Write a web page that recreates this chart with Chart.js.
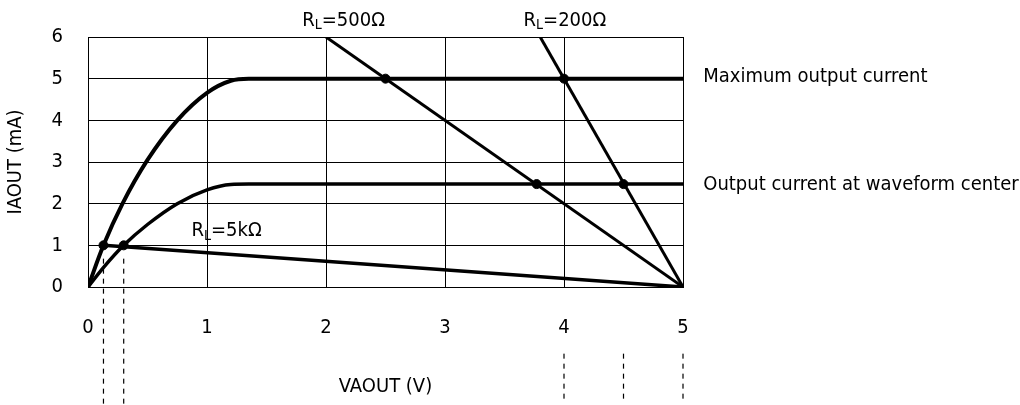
<!DOCTYPE html>
<html>
<head>
<meta charset="utf-8">
<script src="https://cdn.jsdelivr.net/npm/chart.js@4"></script>
<style>
  html, body { margin: 0; padding: 0; background: #fff; }
  #wrap { width: 1020px; height: 405px; }
</style>
</head>
<body>
<div id="wrap"><canvas id="ioChart"></canvas></div>
<script>
// values
const xTicks = [0, 1, 2, 3, 4, 5];
const yTicks = [0, 1, 2, 3, 4, 5, 6];

const maxCurveV = [0, 0.13, 0.29, 0.5, 0.75, 1.0, 1.2, 1.35, 5];
const maxCurveI = [0, 1, 2, 3.05, 4, 4.66, 4.95, 5, 5];

const centerCurveV = [0, 0.14, 0.3, 0.5, 0.75, 1.0, 1.2, 1.35, 5];
const centerCurveI = [0, 0.5, 1, 1.5, 2.0, 2.33, 2.46, 2.47, 2.47];

const rl5kV = [0.13, 5];
const rl5kI = [1, 0];
const rl500V = [2, 5];
const rl500I = [6, 0];
const rl200V = [3.8, 5];
const rl200I = [6, 0];

const dotV = [0.13, 0.3, 2.5, 4, 3.77, 4.5];
const dotI = [1, 1, 5, 5, 2.47, 2.47];

const markV = [0.13, 0.3, 4, 4.5, 5];
const markTop = [0.68, 0.68, -1.6, -1.6, -1.6];
const markBottom = -2.8;

const FONT = "'DejaVu Sans Condensed', 'DejaVu Sans', sans-serif";

function pts(xs, ys) {
  return xs.map(function (x, i) { return { x: x, y: ys[i] }; });
}

const lineBase = {
  showLine: true,
  borderColor: '#000',
  backgroundColor: '#000',
  pointRadius: 0,
  fill: false
};

const datasets = [
  Object.assign({}, lineBase, { data: pts(dotV, dotI), showLine: false, pointRadius: 4.5 }),
  Object.assign({}, lineBase, { data: pts(maxCurveV, maxCurveI), borderWidth: 4, cubicInterpolationMode: 'monotone' }),
  Object.assign({}, lineBase, { data: pts(centerCurveV, centerCurveI), borderWidth: 3.5, cubicInterpolationMode: 'monotone' }),
  Object.assign({}, lineBase, { data: pts(rl5kV, rl5kI), borderWidth: 3.5 }),
  Object.assign({}, lineBase, { data: pts(rl500V, rl500I), borderWidth: 3 }),
  Object.assign({}, lineBase, { data: pts(rl200V, rl200I), borderWidth: 3 })
];

markV.forEach(function (v, i) {
  datasets.push(Object.assign({}, lineBase, {
    data: [{ x: v, y: markTop[i] }, { x: v, y: markBottom }],
    borderWidth: 1.2,
    borderDash: [5, 5],
    clip: false
  }));
});

// text labels, anchored at data coordinates
const labels = [
  { x: 1.8, y: 6.4, main: 'R', sub: 'L', rest: '=500Ω' },
  { x: 3.66, y: 6.4, main: 'R', sub: 'L', rest: '=200Ω' },
  { x: 0.87, y: 1.34, main: 'R', sub: 'L', rest: '=5kΩ' },
  { x: 5.17, y: 5.05, main: 'Maximum output current' },
  { x: 5.17, y: 2.45, main: 'Output current at waveform center' }
];

const labelPlugin = {
  id: 'labels',
  afterDatasetsDraw: function (chart) {
    const c = chart.ctx;
    const xs = chart.scales.x, ys = chart.scales.y;
    c.save();
    c.fillStyle = '#000';
    c.textBaseline = 'middle';
    c.textAlign = 'left';
    labels.forEach(function (l) {
      let px = xs.getPixelForValue(l.x);
      const py = ys.getPixelForValue(l.y);
      c.font = '20px ' + FONT;
      c.fillText(l.main, px, py);
      px += c.measureText(l.main).width;
      if (l.sub) {
        c.font = '14px ' + FONT;
        c.fillText(l.sub, px, py + 5);
        px += c.measureText(l.sub).width;
        c.font = '20px ' + FONT;
        c.fillText(l.rest, px, py);
      }
    });
    c.restore();
  }
};

new Chart(document.getElementById('ioChart'), {
  type: 'scatter',
  data: { datasets: datasets },
  options: {
    responsive: true,
    maintainAspectRatio: false,
    animation: false,
    layout: { padding: { left: 0, right: 337, top: 32, bottom: 0 } },
    plugins: { legend: { display: false }, tooltip: { enabled: false } },
    scales: {
      x: {
        type: 'linear',
        min: 0,
        max: 5,
        afterFit: function (s) { s.height = 118; },
        afterBuildTicks: function (s) { s.ticks = xTicks.map(function (v) { return { value: v }; }); },
        grid: { color: '#000', lineWidth: 1, drawTicks: false },
        border: { color: '#000', width: 1 },
        ticks: { color: '#000', padding: 29, font: { family: FONT, size: 20 } },
        title: {
          display: true,
          text: 'VAOUT (V)',
          color: '#000',
          padding: { top: 0, bottom: 6 },
          font: { family: FONT, size: 20 }
        }
      },
      y: {
        type: 'linear',
        min: 0,
        max: 6,
        afterFit: function (s) { s.width = 88; },
        afterBuildTicks: function (s) { s.ticks = yTicks.map(function (v) { return { value: v }; }); },
        grid: { color: '#000', lineWidth: 1, drawTicks: false },
        border: { color: '#000', width: 1 },
        ticks: { color: '#000', padding: 25, font: { family: FONT, size: 20 } },
        title: {
          display: true,
          text: 'IAOUT (mA)',
          color: '#000',
          padding: { top: 4, bottom: 0 },
          font: { family: FONT, size: 20 }
        }
      }
    }
  },
  plugins: [labelPlugin]
});
</script>
</body>
</html>
